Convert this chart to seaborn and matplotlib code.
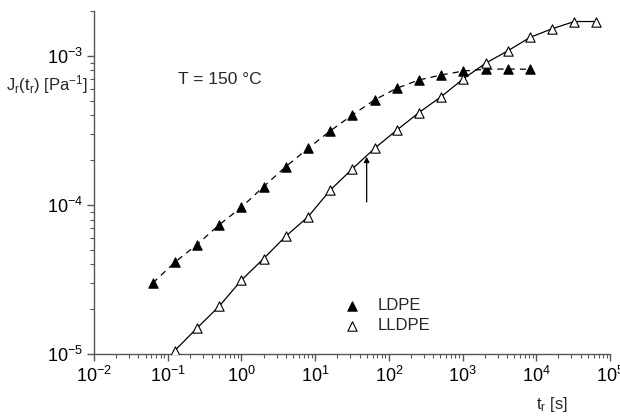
import numpy as np
import pandas as pd
import matplotlib
matplotlib.use("Agg")
import matplotlib.pyplot as plt
import seaborn as sns

# ---- data ----
ldpe_t = [0.0625, 0.125, 0.25, 0.5, 1, 2, 4, 8, 16, 32, 64, 128, 256, 512, 1024, 2048, 4096, 8192]
ldpe_j = [3.0e-5, 4.14e-5, 5.44e-5, 7.38e-5, 9.67e-5, 1.33e-4, 1.81e-4, 2.40e-4, 3.14e-4,
          4.02e-4, 5.07e-4, 6.07e-4, 6.90e-4, 7.45e-4, 7.92e-4, 8.14e-4, 8.17e-4, 8.14e-4]
lldpe_t = [0.125, 0.25, 0.5, 1, 2, 4, 8, 16, 32, 64, 128, 256, 512, 1024, 2048, 4096, 8192,
           16384, 32768, 65536]
lldpe_j = [1.06e-5, 1.50e-5, 2.10e-5, 3.14e-5, 4.38e-5, 6.19e-5, 8.34e-5, 1.26e-4, 1.75e-4,
           2.40e-4, 3.18e-4, 4.17e-4, 5.33e-4, 7.02e-4, 8.93e-4, 1.08e-3, 1.33e-3, 1.52e-3,
           1.70e-3, 1.70e-3]
series_names = ["LDPE", "LLDPE"]

df = pd.concat([
    pd.DataFrame({"t": ldpe_t, "J": ldpe_j, "sample": series_names[0]}),
    pd.DataFrame({"t": lldpe_t, "J": lldpe_j, "sample": series_names[1]}),
], ignore_index=True)

sns.set_theme(style="ticks")
plt.rcParams["font.family"] = ["Liberation Sans", "DejaVu Sans"]
plt.rcParams["mathtext.fontset"] = "custom"
plt.rcParams["mathtext.rm"] = "Liberation Sans"
plt.rcParams["mathtext.it"] = "Liberation Sans:italic"
plt.rcParams["mathtext.bf"] = "Liberation Sans:bold"

fig = plt.figure(figsize=(6.2, 4.17), dpi=100)
ax = fig.add_axes([94 / 620, 1 - 354.3 / 417, (610 - 94) / 620, (354.3 - 11) / 417])

d1 = df[df["sample"] == "LDPE"]
d2 = df[df["sample"] == "LLDPE"]
sns.lineplot(data=d1, x="t", y="J", ax=ax, color="black", lw=0.9, linestyle=(0, (5, 4)), legend=False)
sns.lineplot(data=d2, x="t", y="J", ax=ax, color="black", lw=0.9, legend=False)

sns.scatterplot(data=d1, x="t", y="J", ax=ax, marker="^", s=45, color="black",
                edgecolor="black", linewidth=0.8, label="LDPE", zorder=3)
sns.scatterplot(data=d2, x="t", y="J", ax=ax, marker="^", s=45, facecolor="white",
                edgecolor="black", linewidth=0.8, label="LLDPE", zorder=3)

ax.set_xscale("log")
ax.set_yscale("log")
ax.set_xlim(1e-2, 1e5)
ax.set_ylim(1e-5, 2e-3)
ax.set_xlabel("")
ax.set_ylabel("")

axis_col = "#555555"
for s in ["top", "right"]:
    ax.spines[s].set_visible(False)
for s in ["left", "bottom"]:
    ax.spines[s].set_color(axis_col)
    ax.spines[s].set_linewidth(1.0)
ax.tick_params(which="major", direction="out", length=5, width=1.0, color=axis_col,
               labelsize=13, labelcolor="black", pad=3)
ax.tick_params(which="minor", direction="out", length=3, width=0.8, color=axis_col)
ax.xaxis.set_major_locator(matplotlib.ticker.LogLocator(base=10, numticks=10))
ax.xaxis.set_minor_locator(matplotlib.ticker.LogLocator(base=10, subs=np.arange(2, 10), numticks=20))

# arrow
ax.annotate("", xy=(50, 2.11e-4), xytext=(50, 1.05e-4),
            arrowprops=dict(arrowstyle="-|>", color="black", lw=0.9, mutation_scale=8,
                            shrinkA=0, shrinkB=0))

fig.text(178 / 620, 1 - 80 / 417, "T = 150 °C", fontsize=12.5, ha="left", va="center")
fig.text(88 / 620, 1 - 85 / 417, r"J$_\mathregular{r}$(t$_\mathregular{r}$) [Pa$^\mathregular{-1}$]",
         fontsize=12, ha="right", va="center")
fig.text(552 / 620, 1 - 405 / 417, r"t$_\mathregular{r}$ [s]", fontsize=12, ha="center", va="center")

leg = ax.legend(loc="center left", bbox_to_anchor=(334 / 620, 1 - 316 / 417),
                bbox_transform=fig.transFigure, frameon=False, fontsize=12,
                handlelength=1.2, handletextpad=0.9, labelspacing=0.3, borderpad=0)

fig.savefig("out.png", dpi=100)
